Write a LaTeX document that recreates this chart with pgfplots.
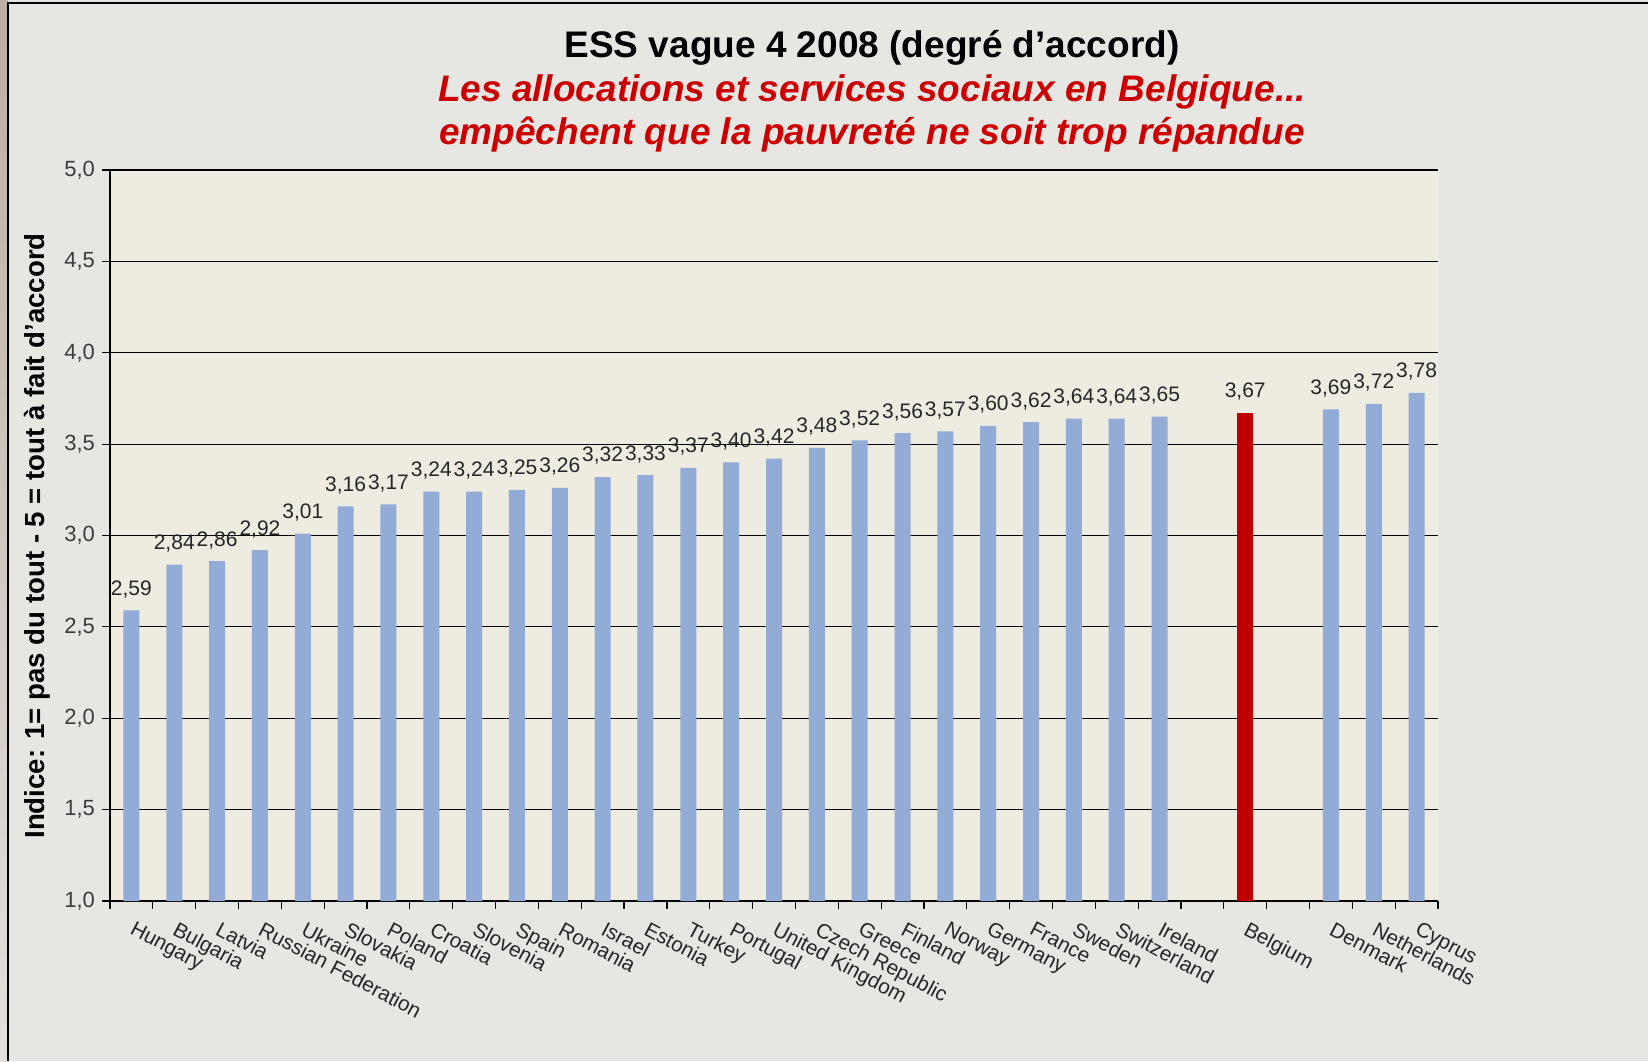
\documentclass[border=0pt]{standalone}
\usepackage{pgfplots}
\pgfplotsset{compat=1.18}
\usepackage{fontspec}
\setmainfont{Liberation Sans}
\definecolor{bgc}{RGB}{230,230,227}
\definecolor{plotbg}{RGB}{238,235,224}
\definecolor{barblue}{RGB}{146,171,215}
\definecolor{barred}{RGB}{192,0,0}
\definecolor{titlered}{RGB}{204,0,0}
\definecolor{strip}{RGB}{188,174,160}
\definecolor{ticktext}{RGB}{60,60,60}
\pgfplotstableread{
x y
0 2.59
1 2.84
2 2.86
3 2.92
4 3.01
5 3.16
6 3.17
7 3.24
8 3.24
9 3.25
10 3.26
11 3.32
12 3.33
13 3.37
14 3.40
15 3.42
16 3.48
17 3.52
18 3.56
19 3.57
20 3.60
21 3.62
22 3.64
23 3.64
24 3.65
28 3.69
29 3.72
30 3.78
}\others
\pgfplotstableread{
x y
26 3.67
}\belgium
\begin{document}
\begin{tikzpicture}
\path[use as bounding box] (0,0) rectangle (824pt,530.5pt);
\fill[bgc] (0,0) rectangle (824pt,530.5pt);
\shade[top color=strip, bottom color=bgc!90!strip] (0,0) rectangle (4pt,530.5pt);
\draw[black, line width=0.8pt] (4pt,0) -- (4pt,529pt) -- (824pt,529pt);
\begin{axis}[
  at={(55pt,80pt)}, anchor=south west,
  width=664pt, height=365.5pt, scale only axis,
  xmin=-0.5, xmax=30.5, ymin=1, ymax=5,
  axis x line*=bottom, axis y line*=left,
  axis background/.style={fill=plotbg},
  axis line style={black, line width=0.6pt, -},
  ybar, bar width=8pt,
  ytick={1,1.5,...,5},
  yticklabel={\pgfmathprintnumber[fixed,fixed zerofill,precision=1,use comma,assume math mode=true]{\tick}},
  yticklabel style={font=\fontsize{11}{13}\selectfont, text=ticktext},
  ymajorgrids, major grid style={black, line width=0.6pt},
  tick align=outside, major tick length=4pt,
  tick style={black, line width=0.6pt},
  xtick={-0.5,0.5,...,30.5}, xticklabels={},
  extra x ticks={0,...,30},
  extra x tick labels={Hungary,Bulgaria,Latvia,Russian Federation,Ukraine,Slovakia,Poland,Croatia,Slovenia,Spain,Romania,Israel,Estonia,Turkey,Portugal,United Kingdom,Czech Republic,Greece,Finland,Norway,Germany,France,Sweden,Switzerland,Ireland,{},Belgium,{},Denmark,Netherlands,Cyprus},
  extra x tick style={tick style={draw=none}, grid=none,
    xticklabel style={rotate=-28, anchor=north west, inner sep=0pt, yshift=-4pt, xshift=4.5pt, font=\fontsize{10.4}{12}\selectfont, text=black!85}},
  nodes near coords={\pgfmathprintnumber[fixed,fixed zerofill,precision=2,use comma,assume math mode=true]{\pgfplotspointmeta}},
  every node near coord/.append style={font=\fontsize{10.5}{12}\selectfont, text=black!85, inner sep=2pt, yshift=4pt},
  clip=false,
]
\addplot[fill=barblue, draw=none, bar shift=0pt] table[x=x,y=y] {\others};
\addplot[fill=barred, draw=none, bar shift=0pt] table[x=x,y=y] {\belgium};
\end{axis}
\node[font=\bfseries\fontsize{18.5}{22}\selectfont] at (436pt,506.5pt) {ESS vague 4 2008 (degré d'accord)};
\node[font=\bfseries\itshape\fontsize{18.5}{22}\selectfont, text=titlered] at (436pt,484.5pt) {Les allocations et services sociaux en Belgique...};
\node[font=\bfseries\itshape\fontsize{18.5}{22}\selectfont, text=titlered] at (436pt,463pt) {empêchent que la pauvreté ne soit trop répandue};
\node[font=\bfseries\fontsize{13.8}{16}\selectfont, rotate=90] at (18.5pt,262.5pt) {Indice: 1= pas du tout - 5 = tout à fait d'accord};
\end{tikzpicture}
\end{document}
